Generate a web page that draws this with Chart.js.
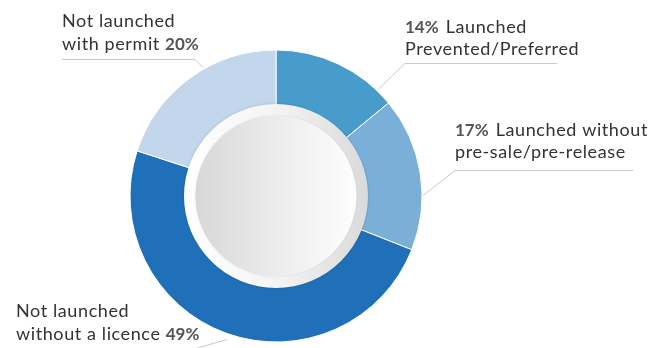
<!DOCTYPE html>
<html>
<head>
<meta charset="utf-8">
<title>Launch outcomes</title>
<script src="https://cdn.jsdelivr.net/npm/chart.js@4.4.1/dist/chart.umd.min.js"></script>
<style>
  html, body { margin: 0; padding: 0; background: #fff; }
  #wrap { position: relative; width: 649px; height: 348px; }
</style>
</head>
<body>
<div id="wrap"><canvas id="launch-chart" width="649" height="348"></canvas></div>
<script>
const categories = [
  'Launched Prevented/Preferred',
  'Launched without pre-sale/pre-release',
  'Not launched without a licence',
  'Not launched with permit'
];
const shares = [14, 17, 49, 20];
const colours = ['#489ccc', '#7aafd8', '#1f70b8', '#c2d7ec'];

// how each category name wraps onto two lines
const labelLines = [
  ['Launched', 'Prevented/Preferred'],
  ['Launched without', 'pre-sale/pre-release'],
  ['Not launched', 'without a licence'],
  ['Not launched', 'with permit']
];

// where the callouts sit and how their leader lines run
const callouts = [
  { x: 405, base: [33, 55], pctFirst: true,  path: [[557, 63], [405, 63], [378, 89]] },
  { x: 455, base: [136, 158], pctFirst: true, path: [[633, 170], [455, 170], [423, 195]] },
  { x: 16,  base: [317, 340], pctFirst: false, path: [[16, 350], [189, 350], [227, 339]] },
  { x: 62,  base: [27, 50],  pctFirst: false, path: [[62, 59], [195, 59], [203, 67]] }
];

const FONT = '"Lato", "Open Sans", sans-serif';
const SIZE = 18;
const PCT_SIZE = 17;

// grey dish in the middle of the ring
const centreDisc = {
  id: 'centreDisc',
  afterDatasetsDraw(chart) {
    const arc = chart.getDatasetMeta(0).data[0];
    if (!arc) return;
    const ctx = chart.ctx;
    const cx = arc.x, cy = arc.y;
    ctx.save();
    let g = ctx.createLinearGradient(cx - 92, 0, cx + 92, 0);
    g.addColorStop(0, '#ffffff');
    g.addColorStop(0.5, '#f4f4f4');
    g.addColorStop(1, '#dadada');
    ctx.shadowColor = 'rgba(0,0,0,0.15)';
    ctx.shadowBlur = 3;
    ctx.beginPath();
    ctx.arc(cx, cy, 92, 0, Math.PI * 2);
    ctx.fillStyle = g;
    ctx.fill();
    ctx.shadowColor = 'rgba(0,0,0,0.10)';
    ctx.shadowBlur = 2;
    g = ctx.createLinearGradient(cx - 81, 0, cx + 81, 0);
    g.addColorStop(0, '#d8d7d7');
    g.addColorStop(0.5, '#ececec');
    g.addColorStop(1, '#fefefe');
    ctx.beginPath();
    ctx.arc(cx, cy, 80.5, 0, Math.PI * 2);
    ctx.fillStyle = g;
    ctx.fill();
    ctx.restore();
  }
};

// text callouts with leader lines
const callOutLabels = {
  id: 'callOutLabels',
  afterDraw(chart) {
    const ctx = chart.ctx;
    const values = chart.data.datasets[0].data;
    ctx.save();
    ctx.textBaseline = 'alphabetic';
    callouts.forEach((c, i) => {
      const pct = values[i] + '%';
      const lines = labelLines[i];
      lines.forEach((txt, li) => {
        let x = c.x;
        const y = c.base[li];
        const parts = [];
        if (c.pctFirst && li === 0) {
          parts.push({ t: pct, bold: true, gap: 7 }, { t: txt });
        } else if (!c.pctFirst && li === lines.length - 1) {
          parts.push({ t: txt + ' ' }, { t: pct, bold: true });
        } else {
          parts.push({ t: txt });
        }
        parts.forEach(p => {
          ctx.font = p.bold ? 'bold ' + PCT_SIZE + 'px ' + FONT : SIZE + 'px ' + FONT;
          ctx.letterSpacing = p.bold ? '0px' : '0.6px';
          ctx.fillStyle = p.bold ? '#555555' : '#333333';
          ctx.fillText(p.t, x, y);
          x += ctx.measureText(p.t).width + (p.gap || 0);
        });
      });
      ctx.strokeStyle = '#c9c9c9';
      ctx.lineWidth = 1;
      ctx.beginPath();
      c.path.forEach((pt, k) => {
        if (k === 0) ctx.moveTo(pt[0], pt[1] + 0.5);
        else ctx.lineTo(pt[0], pt[1] + 0.5);
      });
      ctx.stroke();
    });
    ctx.restore();
  }
};

new Chart(document.getElementById('launch-chart'), {
  type: 'doughnut',
  data: {
    labels: categories,
    datasets: [{
      data: shares,
      backgroundColor: colours,
      borderColor: '#ffffff',
      borderWidth: 1,
      radius: 146,
      cutout: 88
    }]
  },
  options: {
    responsive: false,
    animation: false,
    layout: { padding: { left: 130, right: 227, top: 50, bottom: 6 } },
    plugins: {
      legend: { display: false },
      tooltip: { enabled: false }
    }
  },
  plugins: [centreDisc, callOutLabels]
});
</script>
</body>
</html>
